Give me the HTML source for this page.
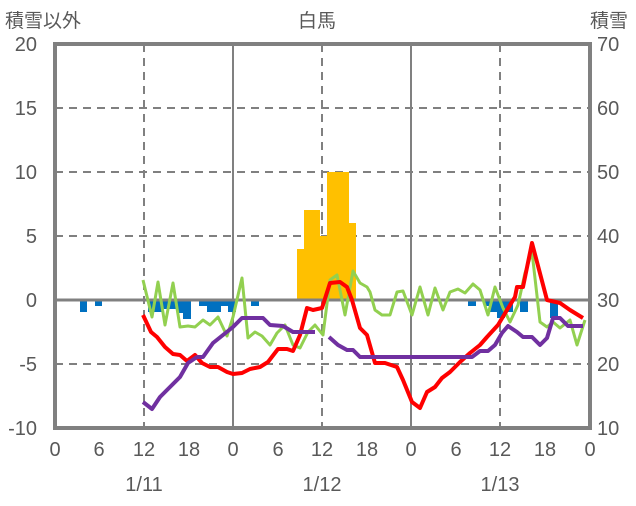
<!DOCTYPE html>
<html><head><meta charset="utf-8"><style>
body{margin:0;background:#fff}
svg text{font-family:"Liberation Sans","Noto Sans CJK JP",sans-serif;fill:#595959}
</style></head><body>
<svg width="636" height="501" viewBox="0 0 636 501" xmlns="http://www.w3.org/2000/svg">
<rect width="636" height="501" fill="#fff"/>
<g stroke="#808080" stroke-width="2" stroke-dasharray="8,6">
<line x1="55" y1="108" x2="590" y2="108"/>
<line x1="55" y1="172" x2="590" y2="172"/>
<line x1="55" y1="236" x2="590" y2="236"/>
<line x1="55" y1="364" x2="590" y2="364"/>
<line x1="144" y1="44" x2="144" y2="428"/>
<line x1="322" y1="44" x2="322" y2="428"/>
<line x1="500" y1="44" x2="500" y2="428"/>
</g>
<g stroke="#808080" stroke-width="2">
<line x1="233" y1="44" x2="233" y2="428"/>
<line x1="411" y1="44" x2="411" y2="428"/>
</g>
<g fill="#FFC000">
<rect x="297" y="249" width="8" height="51"/>
<rect x="304" y="210" width="16" height="90"/>
<rect x="319" y="236" width="9" height="64"/>
<rect x="327" y="172" width="22" height="128"/>
<rect x="348" y="223" width="8" height="77"/>
</g>
<g fill="#0070C0">
<rect x="80" y="300" width="7" height="12"/>
<rect x="95" y="300" width="7" height="6"/>
<rect x="148" y="300" width="15" height="12"/>
<rect x="163" y="300" width="15" height="9"/>
<rect x="178" y="300" width="8" height="13"/>
<rect x="183" y="300" width="8" height="19"/>
<rect x="199" y="300" width="8" height="6"/>
<rect x="207" y="300" width="14" height="12"/>
<rect x="221" y="300" width="8" height="6"/>
<rect x="228" y="300" width="8" height="12"/>
<rect x="251" y="300" width="8" height="6"/>
<rect x="468" y="300" width="8" height="6"/>
<rect x="485" y="300" width="8" height="6"/>
<rect x="490" y="300" width="8" height="12"/>
<rect x="497" y="300" width="8" height="18"/>
<rect x="505" y="300" width="8" height="12"/>
<rect x="520" y="300" width="8" height="12"/>
<rect x="550" y="300" width="8" height="18"/>
</g>
<line x1="55" y1="300" x2="590" y2="300" stroke="#808080" stroke-width="3"/>
<g fill="none" stroke-width="4" stroke-linejoin="round">
<polyline stroke="#92D050" stroke-width="3" points="143,280 152,317 158,282 165,325 173,283 180,327 188,326 195,327 203,320 210,325 218,317 227,336 233,317 242,278 248,338 255,332 262,336 270,345 277,333 285,325 293,345 300,348 308,332 315,325 323,335 330,280 337,275 345,315 353,271 360,283 367,287 370,292 375,310 382,315 390,315 397,292 403,291 412,315 420,287 428,315 435,288 443,310 450,292 458,289 465,293 473,284 480,290 488,315 495,287 503,308 510,322 518,305 525,273 532,252 540,322 547,327 553,322 560,328 570,320 577,345 585,320"/>
<polyline stroke="#FF0000" points="143,315 151,332 157,337 165,347 173,354 180,355 187,361 195,355 202,363 210,367 218,367 227,372 233,374 242,373 250,369 260,367 268,362 278,349 287,349 293,351 300,335 307,308 313,310 322,308 330,283 340,282 347,287 352,300 360,328 367,335 375,363 385,363 397,367 403,380 412,402 420,408 427,392 435,387 442,378 450,372 460,362 470,353 480,345 487,337 498,325 507,310 515,297 517,287 523,287 532,243 547,300 560,303 570,310 583,318"/>
<polyline stroke="#7030A0" points="143,402 152,409 160,397 170,387 180,377 188,363 197,357 203,357 213,343 223,335 233,327 242,318 263,318 270,325 283,326 293,332 315,332"/>
<polyline stroke="#7030A0" points="329,337 338,345 347,350 353,350 360,357 472,357 480,351 488,351 495,345 502,333 508,326 517,332 523,337 532,337 540,345 547,338 553,318 560,318 568,326 583,326"/>
</g>
<rect x="55" y="44" width="535" height="384" fill="none" stroke="#808080" stroke-width="4"/>
<g font-size="19">
<text x="5" y="27">積雪以外</text>
<text x="298" y="27">白馬</text>
<text x="590" y="27">積雪</text>
</g>
<g font-size="20" text-anchor="end">
<text x="37" y="51">20</text><text x="37" y="115">15</text><text x="37" y="179">10</text>
<text x="37" y="243">5</text><text x="37" y="307">0</text><text x="37" y="371">-5</text><text x="37" y="435">-10</text>
</g>
<g font-size="20">
<text x="597" y="51">70</text><text x="597" y="115">60</text><text x="597" y="179">50</text>
<text x="597" y="243">40</text><text x="597" y="307">30</text><text x="597" y="371">20</text><text x="597" y="435">10</text>
</g>
<g font-size="20" text-anchor="middle">
<text x="55" y="456">0</text><text x="99" y="456">6</text><text x="144" y="456">12</text><text x="189" y="456">18</text>
<text x="233" y="456">0</text><text x="278" y="456">6</text><text x="322" y="456">12</text><text x="367" y="456">18</text>
<text x="411" y="456">0</text><text x="456" y="456">6</text><text x="500" y="456">12</text><text x="545" y="456">18</text>
<text x="590" y="456">0</text>
<text x="144" y="491">1/11</text><text x="322" y="491">1/12</text><text x="500" y="491">1/13</text>
</g>
</svg>
</body></html>
